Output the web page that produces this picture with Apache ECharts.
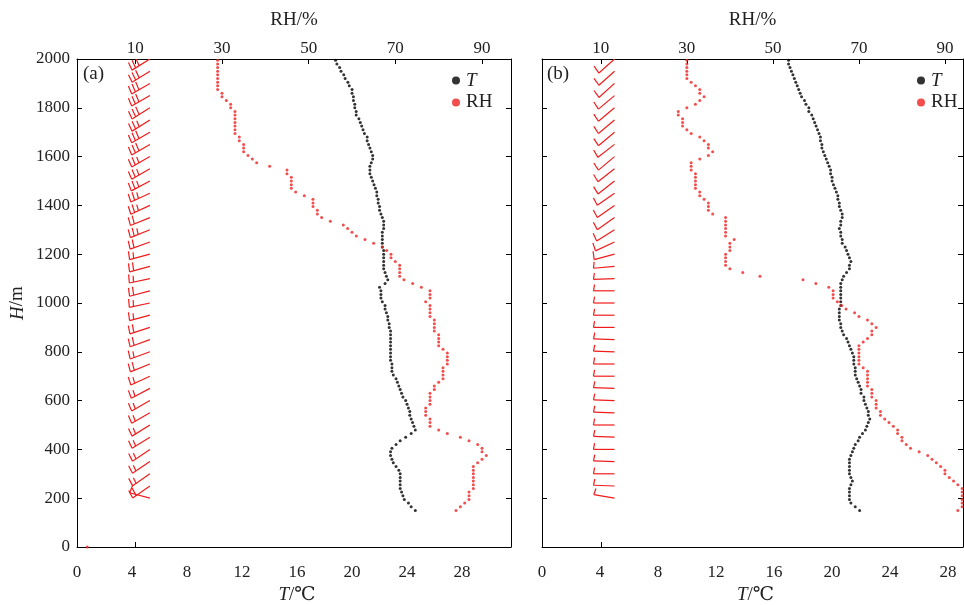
<!DOCTYPE html>
<html>
<head>
<meta charset="utf-8">
<script src="https://cdn.jsdelivr.net/npm/echarts@6/dist/echarts.min.js"></script>
<style>
  html, body { margin: 0; padding: 0; background: #fff; }
  #chart { width: 964px; height: 605px; }
</style>
</head>
<body>
<div id="chart"></div>
<script>
// Sounding levels (m) shared by the temperature and humidity profiles
const heights = [
  150,165,180,195,210,225,240,255,270,285,
  300,315,330,345,360,375,390,405,420,435,
  450,465,480,495,510,525,540,555,570,585,
  600,615,630,645,660,675,690,705,720,735,
  750,765,780,795,810,825,840,855,870,885,
  900,915,930,945,960,975,990,1005,1020,1035,
  1050,1065,1080,1095,1110,1125,1140,1155,1170,1185,
  1200,1215,1230,1245,1260,1275,1290,1305,1320,1335,
  1350,1365,1380,1395,1410,1425,1440,1455,1470,1485,
  1500,1515,1530,1545,1560,1575,1590,1605,1620,1635,
  1650,1665,1680,1695,1710,1725,1740,1755,1770,1785,
  1800,1815,1830,1845,1860,1875,1890,1905,1920,1935,
  1950,1965,1980,1995
];

// (a) temperature, degC
const tempA = [
  24.6,24.3,24.1,23.8,23.7,23.6,23.5,23.5,23.5,23.5,
  23.5,23.4,23.2,23.0,22.9,22.8,22.8,22.9,23.2,23.5,
  23.9,24.3,24.6,24.5,24.4,24.3,24.2,24.2,24.1,24.0,
  23.9,23.7,23.6,23.5,23.4,23.3,23.2,23.0,22.9,22.9,
  22.9,22.8,22.8,22.8,22.8,22.8,22.8,22.8,22.8,22.8,
  22.7,22.7,22.6,22.6,22.5,22.4,22.4,22.2,22.1,22.1,
  22.1,22.0,22.4,22.6,22.5,22.4,22.3,22.3,22.3,22.3,
  22.3,22.3,22.2,22.2,22.2,22.2,22.2,22.3,22.3,22.3,
  22.2,22.1,22.0,22.0,21.9,21.9,21.8,21.8,21.7,21.6,
  21.5,21.4,21.3,21.3,21.3,21.4,21.5,21.5,21.4,21.3,
  21.2,21.1,21.1,20.9,20.8,20.7,20.6,20.5,20.3,20.3,
  20.2,20.2,20.1,20.1,20.0,20.0,19.8,19.7,19.5,19.4,
  19.2,19.1,18.9,18.8
];

// (a) relative humidity, %
const rhA = [
  84,85,86,87,87,87,88,88,88,88,
  88,88,88,89,90,91,90,90,89,87,
  85,82,80,78,78,78,77,77,77,78,
  78,78,78,79,79,80,81,81,81,81,
  82,82,82,82,81,80,80,80,80,79,
  79,79,79,78,78,78,78,77,78,78,
  78,76,74,72,71,71,71,71,70,69,
  69,68,67,65,63,61,60,59,58,55,
  53,52,52,51,51,51,49,47,46,46,
  46,46,45,45,41,38,37,36,35,35,
  35,34,34,33,33,33,33,33,33,33,
  32,32,31,30,30,29,29,29,29,29,
  29,29,29,29
];
// (a) single humidity reading at the ground
const rhGroundA = [-1.1, 0];

// (b) temperature, degC
const tempB = [
  21.9,21.6,21.3,21.2,21.2,21.2,21.2,21.3,21.4,21.3,
  21.2,21.2,21.2,21.2,21.2,21.3,21.4,21.5,21.6,21.8,
  21.9,22.1,22.3,22.4,22.5,22.6,22.5,22.5,22.4,22.3,
  22.2,22.2,22.0,22.0,21.9,21.8,21.7,21.6,21.6,21.6,
  21.5,21.5,21.5,21.4,21.3,21.2,21.1,21.0,20.8,20.7,
  20.6,20.6,20.5,20.5,20.5,20.5,20.6,20.6,20.6,20.6,
  20.6,20.6,20.6,20.7,20.8,21.0,21.2,21.2,21.3,21.2,
  21.1,21.0,20.9,20.7,20.7,20.6,20.6,20.5,20.6,20.6,
  20.7,20.7,20.6,20.5,20.5,20.4,20.4,20.3,20.2,20.1,
  20.0,20.0,19.9,19.9,19.8,19.7,19.6,19.5,19.4,19.3,
  19.3,19.2,19.2,19.1,19.0,18.9,18.8,18.7,18.6,18.4,
  18.4,18.2,18.1,17.9,17.8,17.7,17.6,17.5,17.4,17.3,
  17.2,17.1,17.0,17.0
];

// (b) relative humidity, %
const rhB = [
  93,94,94,94,94,94,94,93,92,91,
  90,90,89,88,87,86,84,82,81,80,
  80,79,79,78,77,76,75,75,74,74,
  74,73,73,73,72,72,72,72,72,71,
  70,70,70,70,70,70,71,72,73,73,
  74,73,72,70,69,67,66,65,64,64,
  64,63,60,57,47,43,40,39,39,39,
  39,40,40,40,41,39,39,39,39,39,
  39,36,35,35,35,34,33,33,32,32,
  32,32,32,31,31,31,33,35,36,35,
  35,34,33,31,30,29,29,29,28,28,
  30,32,33,34,33,33,32,31,30,30,
  30,30,30,30
];

// Wind levels (m), speed (m/s) and direction the wind blows from (deg)
const barbHeights = [
  200,250,300,350,400,450,500,550,600,650,700,750,800,850,900,950,1000,1050,1100,
  1150,1200,1250,1300,1350,1400,1450,1500,1550,1600,1650,1700,1750,1800,1850,1900,1950,2000
];
const barbSpeedA = [
  4,8,6,6,6,6,6,6,6,6,6,8,6,8,8,6,6,8,6,
  8,6,8,10,8,10,10,10,10,10,12,12,10,12,12,12,12,12
];
const barbDirA = [
  285,235,235,236,236,238,238,240,240,242,245,248,250,250,252,255,258,255,258,
  255,255,250,248,248,245,245,242,240,240,240,240,238,238,240,240,238,238
];
const barbSpeedB = [
  2,2,2,2,2,2,2,2,2,2,2,2,2,2,2,2,2,2,2,
  2,4,4,4,4,4,4,4,4,4,4,4,4,4,4,4,4,4
];
const barbDirB = [
  280,272,270,272,270,272,270,272,272,272,270,270,272,272,270,270,270,270,268,
  265,255,245,238,235,235,235,232,232,230,232,230,230,230,230,228,228,228
];

// Axis tick values
const tTicks = [0, 4, 8, 12, 16, 20, 24, 28];
const rhTicks = [10, 30, 50, 70, 90];
const hTicks = [0, 200, 400, 600, 800, 1000, 1200, 1400, 1600, 1800, 2000];

// Axis ranges of the two panels
const rangeA = { tMax: 31.56, rhMin: -3.45, rhMax: 96.69 };
const rangeB = { tMax: 29.03, rhMin: -3.68, rhMax: 94.2 };

const SERIF = '"Liberation Serif", "Times New Roman", "DejaVu Serif", serif';
const TEXT = '#222';
const RED = '#f02222';
const BARB_RED = '#f01c1c';

const pairs = (xs, ys) => xs.map((v, i) => [v, ys[i]]);

function barbData(xPos, speeds, dirs) {
  return barbHeights.map((h, i) => [xPos, h, speeds[i], dirs[i]]);
}

// Wind barb: staff points toward where the wind comes from,
// full barb = 4 m/s, half barb = 2 m/s, barbs start at the outer end
function renderBarb(params, api) {
  const p = api.coord([api.value(0), api.value(1)]);
  const speed = api.value(2);
  const d = api.value(3) * Math.PI / 180;
  const L = 21;
  const sx = Math.sin(d), sy = -Math.cos(d);
  const fx = -sy, fy = sx;
  const style = { stroke: BARB_RED, lineWidth: 1.2, fill: null };
  const kids = [{
    type: 'line',
    shape: { x1: p[0], y1: p[1], x2: p[0] + L * sx, y2: p[1] + L * sy },
    style: style
  }];
  const full = Math.floor(speed / 4);
  const half = (speed % 4) >= 2 ? 1 : 0;
  const spacing = 0.2 * L;
  const lean = -0.05 * L;
  let off = L;
  const feather = (len) => {
    const bx = p[0] + off * sx, by = p[1] + off * sy;
    kids.push({
      type: 'line',
      shape: { x1: bx, y1: by, x2: bx + len * fx + lean * sx, y2: by + len * fy + lean * sy },
      style: style
    });
    off -= spacing;
  };
  for (let i = 0; i < full; i++) feather(0.4 * L);
  if (half) feather(0.3 * L);
  return { type: 'group', children: kids };
}

const axisLine = { show: true, onZero: false, lineStyle: { color: '#000', width: 1 } };
const labelStyle = { fontFamily: SERIF, fontSize: 17, color: TEXT };
const nameStyle = {
  fontFamily: SERIF, fontSize: 19, color: TEXT,
  rich: { it: { fontFamily: SERIF, fontSize: 19, color: TEXT, fontStyle: 'italic' } }
};

// Bottom axis: a single tick mark below the RH = 10 % position
function tAxis(grid, r) {
  const tickAt = (10 - r.rhMin) / (r.rhMax - r.rhMin) * r.tMax;
  return {
    gridIndex: grid, type: 'value', position: 'bottom', min: 0, max: r.tMax,
    axisLine: axisLine,
    axisTick: { show: true, inside: true, length: 5, customValues: [tickAt], lineStyle: { color: '#000' } },
    axisLabel: Object.assign({ customValues: tTicks, margin: 17 }, labelStyle),
    splitLine: { show: false },
    name: '{it|T}/\u2103', nameLocation: 'middle', nameGap: 38,
    nameTextStyle: Object.assign({ padding: [0, 0, 0, 6] }, nameStyle)
  };
}
function rhAxis(grid, r) {
  return {
    gridIndex: grid, type: 'value', position: 'top', min: r.rhMin, max: r.rhMax,
    axisLine: axisLine,
    axisTick: { show: true, inside: true, length: 5, customValues: rhTicks, lineStyle: { color: '#000' } },
    axisLabel: Object.assign({ customValues: rhTicks, margin: 2 }, labelStyle),
    splitLine: { show: false },
    name: 'RH/%', nameLocation: 'middle', nameGap: 29, nameTextStyle: nameStyle
  };
}
function hAxis(grid, pos, labels) {
  const ax = {
    gridIndex: grid, type: 'value', position: pos, min: 0, max: 2000,
    axisLine: axisLine,
    axisTick: { show: true, inside: true, length: 5, customValues: hTicks, lineStyle: { color: '#000' } },
    axisLabel: Object.assign({ show: labels, customValues: hTicks, margin: 7, formatter: v => String(v) }, labelStyle),
    splitLine: { show: false }
  };
  if (labels) {
    ax.name = '{it|H}/m';
    ax.nameLocation = 'middle';
    ax.nameGap = 50;
    ax.nameTextStyle = nameStyle;
  }
  return ax;
}

function legendAt(left) {
  return {
    left: left, top: 66, orient: 'vertical', data: ['T', 'RH'],
    icon: 'circle', itemWidth: 8, itemHeight: 8, itemGap: 3,
    formatter: n => n === 'T' ? '{it|T}' : '{rm|RH}',
    textStyle: {
      fontFamily: SERIF, fontSize: 19, color: TEXT, padding: [0, 0, 0, 1],
      rich: {
        it: { fontFamily: SERIF, fontSize: 19, color: TEXT, fontStyle: 'italic' },
        rm: { fontFamily: SERIF, fontSize: 19, color: TEXT }
      }
    },
    selectedMode: false
  };
}

const dot = { type: 'scatter', symbol: 'circle', symbolSize: 3, silent: true };

const chart = echarts.init(document.getElementById('chart'), null, { renderer: 'canvas' });
chart.setOption({
  animation: false,
  backgroundColor: '#fff',
  grid: [
    { left: 77, top: 59, width: 434, height: 488, outerBoundsMode: 'none', containLabel: false },
    { left: 542, top: 59, width: 421, height: 488, outerBoundsMode: 'none', containLabel: false }
  ],
  xAxis: [
    tAxis(0, rangeA),
    rhAxis(0, rangeA),
    tAxis(1, rangeB),
    rhAxis(1, rangeB)
  ],
  yAxis: [
    hAxis(0, 'left', true),
    hAxis(0, 'right', false),
    hAxis(1, 'left', false),
    hAxis(1, 'right', false)
  ],
  legend: [legendAt(447), legendAt(912)],
  graphic: [
    { type: 'text', left: 83, top: 65, style: { text: '(a)', font: '19px ' + SERIF, fill: TEXT } },
    { type: 'text', left: 547, top: 65, style: { text: '(b)', font: '19px ' + SERIF, fill: TEXT } }
  ],
  series: [
    Object.assign({}, dot, { name: 'T', xAxisIndex: 0, yAxisIndex: 0, itemStyle: { color: '#000' },
      data: pairs(tempA, heights) }),
    Object.assign({}, dot, { name: 'RH', xAxisIndex: 1, yAxisIndex: 0, itemStyle: { color: RED },
      data: pairs(rhA, heights).concat([rhGroundA]) }),
    { type: 'custom', name: 'wind-a', xAxisIndex: 0, yAxisIndex: 0, clip: true, silent: true,
      renderItem: renderBarb, data: barbData(5.3, barbSpeedA, barbDirA) },
    Object.assign({}, dot, { name: 'T', xAxisIndex: 2, yAxisIndex: 2, itemStyle: { color: '#000' },
      data: pairs(tempB, heights) }),
    Object.assign({}, dot, { name: 'RH', xAxisIndex: 3, yAxisIndex: 2, itemStyle: { color: RED },
      data: pairs(rhB, heights) }),
    { type: 'custom', name: 'wind-b', xAxisIndex: 2, yAxisIndex: 2, clip: true, silent: true,
      renderItem: renderBarb, data: barbData(5.0, barbSpeedB, barbDirB) }
  ]
});
</script>
</body>
</html>
